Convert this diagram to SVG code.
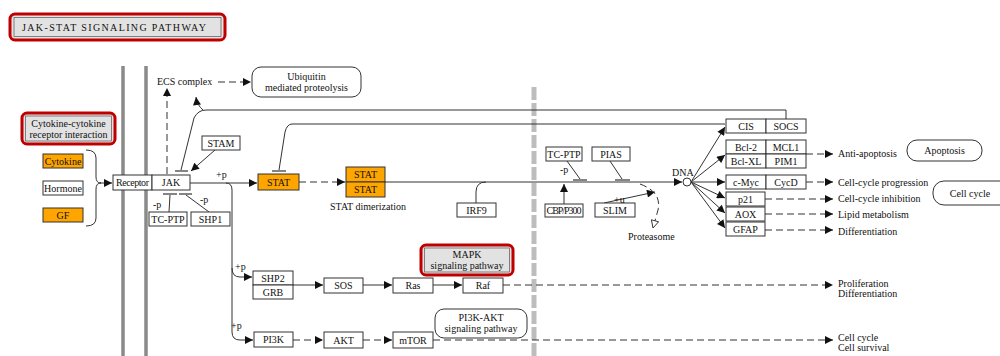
<svg xmlns="http://www.w3.org/2000/svg" width="1000" height="356" viewBox="0 0 1000 356">
<defs>
<style>
text{font-family:"Liberation Serif","DejaVu Serif",serif;font-size:10px;fill:#111}
.c{text-anchor:middle}
.box{fill:#fff;stroke:#333;stroke-width:1}
.org{fill:#ffa500;stroke:#333;stroke-width:1}
.red{fill:#e2e2e2;stroke:#c00000;stroke-width:3}
.inner{fill:#e2e2e2;stroke:#666;stroke-width:0.8}
.rnd{fill:#fff;stroke:#333;stroke-width:1}
.ln{fill:none;stroke:#333;stroke-width:1}
.dash{fill:none;stroke:#333;stroke-width:1;stroke-dasharray:7 4}
.mem{stroke:#8a8a8a;stroke-width:3.5}
.bar{stroke:#333;stroke-width:1.2}
</style>
<marker id="arr" viewBox="0 0 10 10" refX="10" refY="5" markerWidth="9" markerHeight="8" markerUnits="userSpaceOnUse" orient="auto"><path d="M0,0 L10,5 L0,10 z" fill="#111"/></marker>
<marker id="harr" viewBox="0 0 12 12" refX="11" refY="6" markerWidth="9" markerHeight="9" markerUnits="userSpaceOnUse" orient="auto"><path d="M1,1 L11,6 L1,11 z" fill="#fff" stroke="#333" stroke-width="1.2"/></marker>
</defs>

<g id="membrane">
<line class="mem" x1="123" y1="66" x2="123" y2="356"/>
<line class="mem" x1="146" y1="66" x2="146" y2="356"/>
<line x1="534" y1="87" x2="534" y2="356" stroke="#bdbdbd" stroke-width="5" stroke-dasharray="13 3"/>
</g>

<g id="connectors">
<path class="dash" d="M218,82 H251" marker-end="url(#arr)"/>
<path class="dash" d="M167,174 V88" marker-end="url(#arr)"/>
<path class="ln" d="M786,119 V110 H206 Q198,110 194,118 L181,170"/>
<line class="bar" x1="175" y1="171" x2="188" y2="171"/>
<path class="dash" d="M203,110 Q197,105 196,97" stroke-dasharray="4 3" marker-end="url(#arr)"/>
<path class="ln" d="M725,124 H292 Q287,124 285,132 L279,170"/>
<line class="bar" x1="272" y1="171" x2="286" y2="171"/>
<path class="ln" d="M86,150 Q96,150 96,158 V177 Q96,183 101,183 Q96,183 96,189 V218 Q96,226 86,226"/>
<path class="ln" d="M100,183 H112" marker-end="url(#arr)"/>
<path class="ln" d="M215,150 L191,171" marker-end="url(#arr)"/>
<path class="ln" d="M169,212 L170,195"/>
<line class="bar" x1="163" y1="194" x2="177" y2="194"/>
<path class="ln" d="M209,212 L186,195"/>
<line class="bar" x1="179" y1="194" x2="192" y2="194"/>
<path class="ln" d="M190,183 H257" marker-end="url(#arr)"/>
<path class="ln" d="M226,183 Q232,183 232,190 V332 Q232,340 240,340 H253" marker-end="url(#arr)"/>
<path class="ln" d="M232,268 Q232,277 240,277 H252" marker-end="url(#arr)"/>
<path class="dash" d="M299,182 H345" marker-end="url(#arr)"/>
<path class="ln" d="M385,182 H682" marker-end="url(#arr)"/>
<path class="ln" d="M476,203 V192 Q476,182 486,182"/>
<path class="ln" d="M564,204 V184" marker-end="url(#arr)"/>
<path class="ln" d="M567,161 L580,179"/>
<line class="bar" x1="573" y1="180" x2="587" y2="180"/>
<path class="ln" d="M610,161 L622,179"/>
<line class="bar" x1="615" y1="180" x2="630" y2="180"/>
<path class="ln" d="M604,203 L655,192" marker-end="url(#arr)"/>
<path class="dash" d="M640,184 Q662,192 658,210 L653,228" stroke-dasharray="5 3" marker-end="url(#harr)"/>
<path class="ln" d="M691,182 L725,127" marker-end="url(#arr)"/>
<path class="ln" d="M691,182 L725,155" marker-end="url(#arr)"/>
<path class="ln" d="M691,182 H725" marker-end="url(#arr)"/>
<path class="ln" d="M691,182 L725,198" marker-end="url(#arr)"/>
<path class="ln" d="M691,182 L725,213" marker-end="url(#arr)"/>
<path class="ln" d="M691,182 L725,228" marker-end="url(#arr)"/>
<path class="dash" d="M806,154 H833" marker-end="url(#arr)"/>
<path class="dash" d="M806,182 H833" marker-end="url(#arr)"/>
<path class="dash" d="M765,199 H833" marker-end="url(#arr)"/>
<path class="dash" d="M765,214 H833" marker-end="url(#arr)"/>
<path class="dash" d="M765,230 H833" marker-end="url(#arr)"/>
<path class="ln" d="M293,285 H323" marker-end="url(#arr)"/>
<path class="ln" d="M363,285 H392" marker-end="url(#arr)"/>
<path class="ln" d="M433,285 H462" marker-end="url(#arr)"/>
<path class="dash" d="M503,285 H833" marker-end="url(#arr)"/>
<path class="dash" d="M293,340 H323" marker-end="url(#arr)"/>
<path class="dash" d="M363,340 H392" marker-end="url(#arr)"/>
<path class="dash" d="M433,340 H833" marker-end="url(#arr)"/>
</g>

<g id="title"><rect x="10" y="14" width="215" height="26" rx="5" class="red"/><rect x="14" y="17.5" width="207" height="19" class="inner"/><text x="22" y="31" font-size="11.5" textLength="184">JAK-STAT SIGNALING PATHWAY</text></g>
<g id="ecs"><text x="157" y="85">ECS complex</text></g>
<g id="ubiquitin"><rect x="252" y="67" width="109" height="30" rx="9" class="rnd"/><text class="c" x="306.5" y="80">Ubiquitin</text><text class="c" x="306.5" y="91">mediated proteolysis</text></g>
<g id="ccr"><rect x="22" y="113" width="93" height="31" rx="5" class="red"/><rect x="25.5" y="116" width="86" height="25" class="inner"/><text class="c" x="68.5" y="127">Cytokine-cytokine</text><text class="c" x="68.5" y="138">receptor interaction</text></g>
<g id="cytokine"><rect x="43" y="154" width="40" height="14" class="org"/><text class="c" x="63" y="165">Cytokine</text></g>
<g id="hormone"><rect x="43" y="181" width="40" height="14" class="box"/><text class="c" x="63" y="192">Hormone</text></g>
<g id="gf"><rect x="43" y="208" width="40" height="14" class="org"/><text class="c" x="63" y="219">GF</text></g>
<g id="receptor"><rect x="113" y="175" width="39" height="15" class="box"/><text class="c" x="132.5" y="186" textLength="33">Receptor</text></g>
<g id="jak"><rect x="152" y="175" width="38" height="15" class="box"/><text class="c" x="171" y="186">JAK</text></g>
<g id="stam"><rect x="202" y="136" width="38" height="14" class="box"/><text class="c" x="221" y="147">STAM</text></g>
<g id="tcptp1"><rect x="149" y="212" width="38" height="14" class="box"/><text class="c" x="168" y="223">TC-PTP</text></g>
<g id="shp1"><rect x="191" y="212" width="39" height="14" class="box"/><text class="c" x="210.5" y="223">SHP1</text></g>
<g id="stat"><rect x="258" y="174" width="41" height="16" class="org"/><text class="c" x="278.5" y="186">STAT</text></g>
<g id="statdimer"><rect x="346" y="167" width="39" height="15" class="org"/><rect x="346" y="182" width="39" height="15" class="org"/><text class="c" x="365.5" y="178">STAT</text><text class="c" x="365.5" y="193">STAT</text><text class="c" x="368" y="210">STAT dimerization</text></g>
<g id="irf9"><rect x="457" y="203" width="39" height="14" class="box"/><text class="c" x="476.5" y="214">IRF9</text></g>
<g id="tcptp2"><rect x="546" y="147" width="36" height="14" class="box"/><text class="c" x="564" y="158">TC-PTP</text></g>
<g id="pias"><rect x="592" y="147" width="38" height="14" class="box"/><text class="c" x="611" y="158">PIAS</text></g>
<g id="cbp"><rect x="545" y="204" width="38" height="13" class="box"/><text class="c" x="564" y="214" textLength="35">CBP/P300</text></g>
<g id="slim"><rect x="595" y="203" width="40" height="14" class="box"/><text class="c" x="615" y="214">SLIM</text></g>
<g id="proteasome"><text x="628" y="240">Proteasome</text></g>
<g id="dna"><text x="672" y="176">DNA</text><circle cx="687" cy="182" r="4" fill="#fff" stroke="#333" stroke-width="1"/></g>
<g id="cis"><rect x="726" y="119" width="40" height="14" class="box"/><text class="c" x="746" y="130">CIS</text></g>
<g id="socs"><rect x="766" y="119" width="40" height="14" class="box"/><text class="c" x="786" y="130">SOCS</text></g>
<g id="bcl2"><rect x="726" y="140" width="40" height="14" class="box"/><text class="c" x="746" y="151">Bcl-2</text></g>
<g id="mcl1"><rect x="766" y="140" width="40" height="14" class="box"/><text class="c" x="786" y="151">MCL1</text></g>
<g id="bclxl"><rect x="726" y="154" width="40" height="14" class="box"/><text class="c" x="746" y="165">Bcl-XL</text></g>
<g id="pim1"><rect x="766" y="154" width="40" height="14" class="box"/><text class="c" x="786" y="165">PIM1</text></g>
<g id="cmyc"><rect x="726" y="175" width="40" height="14" class="box"/><text class="c" x="746" y="186">c-Myc</text></g>
<g id="cycd"><rect x="766" y="175" width="40" height="14" class="box"/><text class="c" x="786" y="186">CycD</text></g>
<g id="p21"><rect x="726" y="192" width="39" height="14" class="box"/><text class="c" x="745.5" y="203">p21</text></g>
<g id="aox"><rect x="726" y="207" width="39" height="14" class="box"/><text class="c" x="745.5" y="218">AOX</text></g>
<g id="gfap"><rect x="726" y="222" width="39" height="14" class="box"/><text class="c" x="745.5" y="233">GFAP</text></g>
<g id="outcomes">
<text x="838" y="157">Anti-apoptosis</text>
<text x="838" y="186">Cell-cycle progression</text>
<text x="838" y="202">Cell-cycle inhibition</text>
<text x="838" y="218">Lipid metabolism</text>
<text x="838" y="235">Differentiation</text>
<text x="838" y="287">Proliferation</text>
<text x="838" y="297">Differentiation</text>
<text x="838" y="341">Cell cycle</text>
<text x="838" y="351">Cell survival</text>
</g>
<g id="apoptosis"><rect x="907" y="140" width="75" height="21" rx="10" class="rnd"/><text class="c" x="944.5" y="154">Apoptosis</text></g>
<g id="cellcycle"><rect x="933" y="181" width="80" height="24" rx="11" class="rnd"/><text class="c" x="970" y="197">Cell cycle</text></g>
<g id="labels">
<text x="216" y="178">+p</text>
<text x="153" y="208">-p</text>
<text x="200" y="203">-p</text>
<text x="560" y="173">-p</text>
<text x="614" y="203">+u</text>
<text x="235" y="270">+p</text>
<text x="231" y="329">+p</text>
</g>
<g id="mapk"><rect x="421" y="245" width="92" height="30" rx="5" class="red"/><rect x="424.5" y="248" width="85" height="24" class="inner"/><text class="c" x="467" y="258">MAPK</text><text class="c" x="467" y="269">signaling pathway</text></g>
<g id="shp2grb"><rect x="253" y="271" width="40" height="14" class="box"/><rect x="253" y="285" width="40" height="14" class="box"/><text class="c" x="273" y="282">SHP2</text><text class="c" x="273" y="296">GRB</text></g>
<g id="sos"><rect x="324" y="278" width="39" height="15" class="box"/><text class="c" x="343.5" y="289">SOS</text></g>
<g id="ras"><rect x="393" y="278" width="40" height="15" class="box"/><text class="c" x="413" y="289">Ras</text></g>
<g id="raf"><rect x="463" y="278" width="40" height="15" class="box"/><text class="c" x="483" y="289">Raf</text></g>
<g id="pi3k"><rect x="254" y="332" width="39" height="15" class="box"/><text class="c" x="273.5" y="343">PI3K</text></g>
<g id="akt"><rect x="324" y="332" width="39" height="16" class="box"/><text class="c" x="343.5" y="344">AKT</text></g>
<g id="mtor"><rect x="393" y="332" width="40" height="16" class="box"/><text class="c" x="413" y="344">mTOR</text></g>
<g id="pi3kakt"><rect x="435" y="309" width="92" height="29" rx="9" class="rnd"/><text class="c" x="481" y="321">PI3K-AKT</text><text class="c" x="481" y="332">signaling pathway</text></g>
</svg>
